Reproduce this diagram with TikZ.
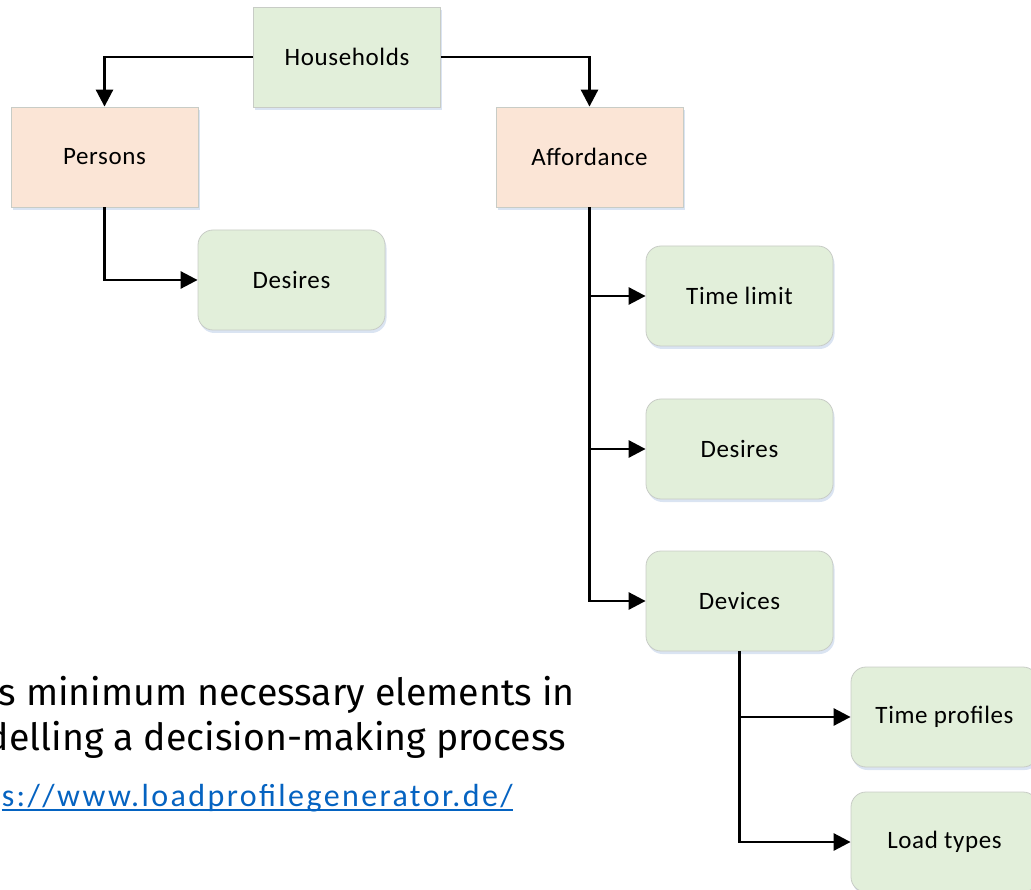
\documentclass[tikz,border=0pt]{standalone}
\usepackage{fontspec}
\setmainfont{Carlito}
\newfontfamily\notefont{Fira Sans}
\newfontfamily\boxfont[LetterSpace=2.5]{Carlito}
\newfontfamily\urlfont[LetterSpace=7.5]{Carlito}
\usetikzlibrary{arrows.meta,shadows}
\definecolor{boxgreen}{HTML}{E2EFDA}
\definecolor{boxorange}{HTML}{FBE5D6}
\definecolor{boxline}{HTML}{C8CCC6}
\definecolor{linkblue}{HTML}{0563C1}
\definecolor{shadowblue}{HTML}{CBD8EC}

\begin{document}
\begin{tikzpicture}[x=1pt,y=-1pt,
  box/.style={draw=boxline, line width=0.8pt, minimum width=187pt,
    minimum height=100pt, inner sep=0pt,
    font=\boxfont\fontsize{25}{29}\selectfont,
    drop shadow={shadow xshift=1.5pt, shadow yshift=-3pt,
      fill=shadowblue, opacity=0.7}},
  entity/.style={box, fill=boxorange},
  root/.style={box, fill=boxgreen},
  leaf/.style={box, fill=boxgreen, rounded corners=15pt},
  link/.style={line width=2.8pt,
    -{Triangle[length=17pt,width=17pt]}},
  note/.style={anchor=base east, inner sep=0pt,
    font=\notefont\fontsize{37.5}{41}\selectfont},
]
\useasboundingbox (0,0) rectangle (1031,890);
\clip (0,0) rectangle (1031,890);

% hierarchy boxes
\node[root]   (hh)   at (347,57)     {Households};
\node[entity] (pers) at (104.5,157)  {Persons};
\node[entity] (aff)  at (589.5,157)  {Affordance};
\node[leaf]   (pdes) at (291.5,280)  {Desires};
\node[leaf]   (tl)   at (739.5,296)  {Time limit};
\node[leaf]   (ades) at (739.5,449)  {Desires};
\node[leaf]   (dev)  at (739.5,601)  {Devices};
\node[leaf]   (tp)   at (944.5,717)  {Time profiles};
\node[leaf]   (lt)   at (944.5,842)  {Load types};

% connectors
\draw[link] (hh.west) -| (pers.north);
\draw[link] (hh.east) -| (aff.north);
\draw[link] (pers.south) |- (pdes.west);
\draw[link] (aff.south) |- (tl.west);
\draw[link] (aff.south) |- (ades.west);
\draw[link] (aff.south) |- (dev.west);
\draw[link] (dev.south) |- (tp.west);
\draw[link] (dev.south) |- (lt.west);

% caption and source
\node[note] (l1) at (575,705) {s minimum necessary elements in};
\node[note] (l2) at (566,750) {delling a decision-making process};
\node[anchor=base east, inner sep=0pt, text=linkblue,
  font=\urlfont\fontsize{32}{36}\selectfont] (url) at (513,806)
  {s://www.loadprofilegenerator.de/};
\draw[linkblue, line width=1.6pt] ([yshift=-4pt]url.base west) -- ([yshift=-4pt]url.base east);
\end{tikzpicture}
\end{document}
